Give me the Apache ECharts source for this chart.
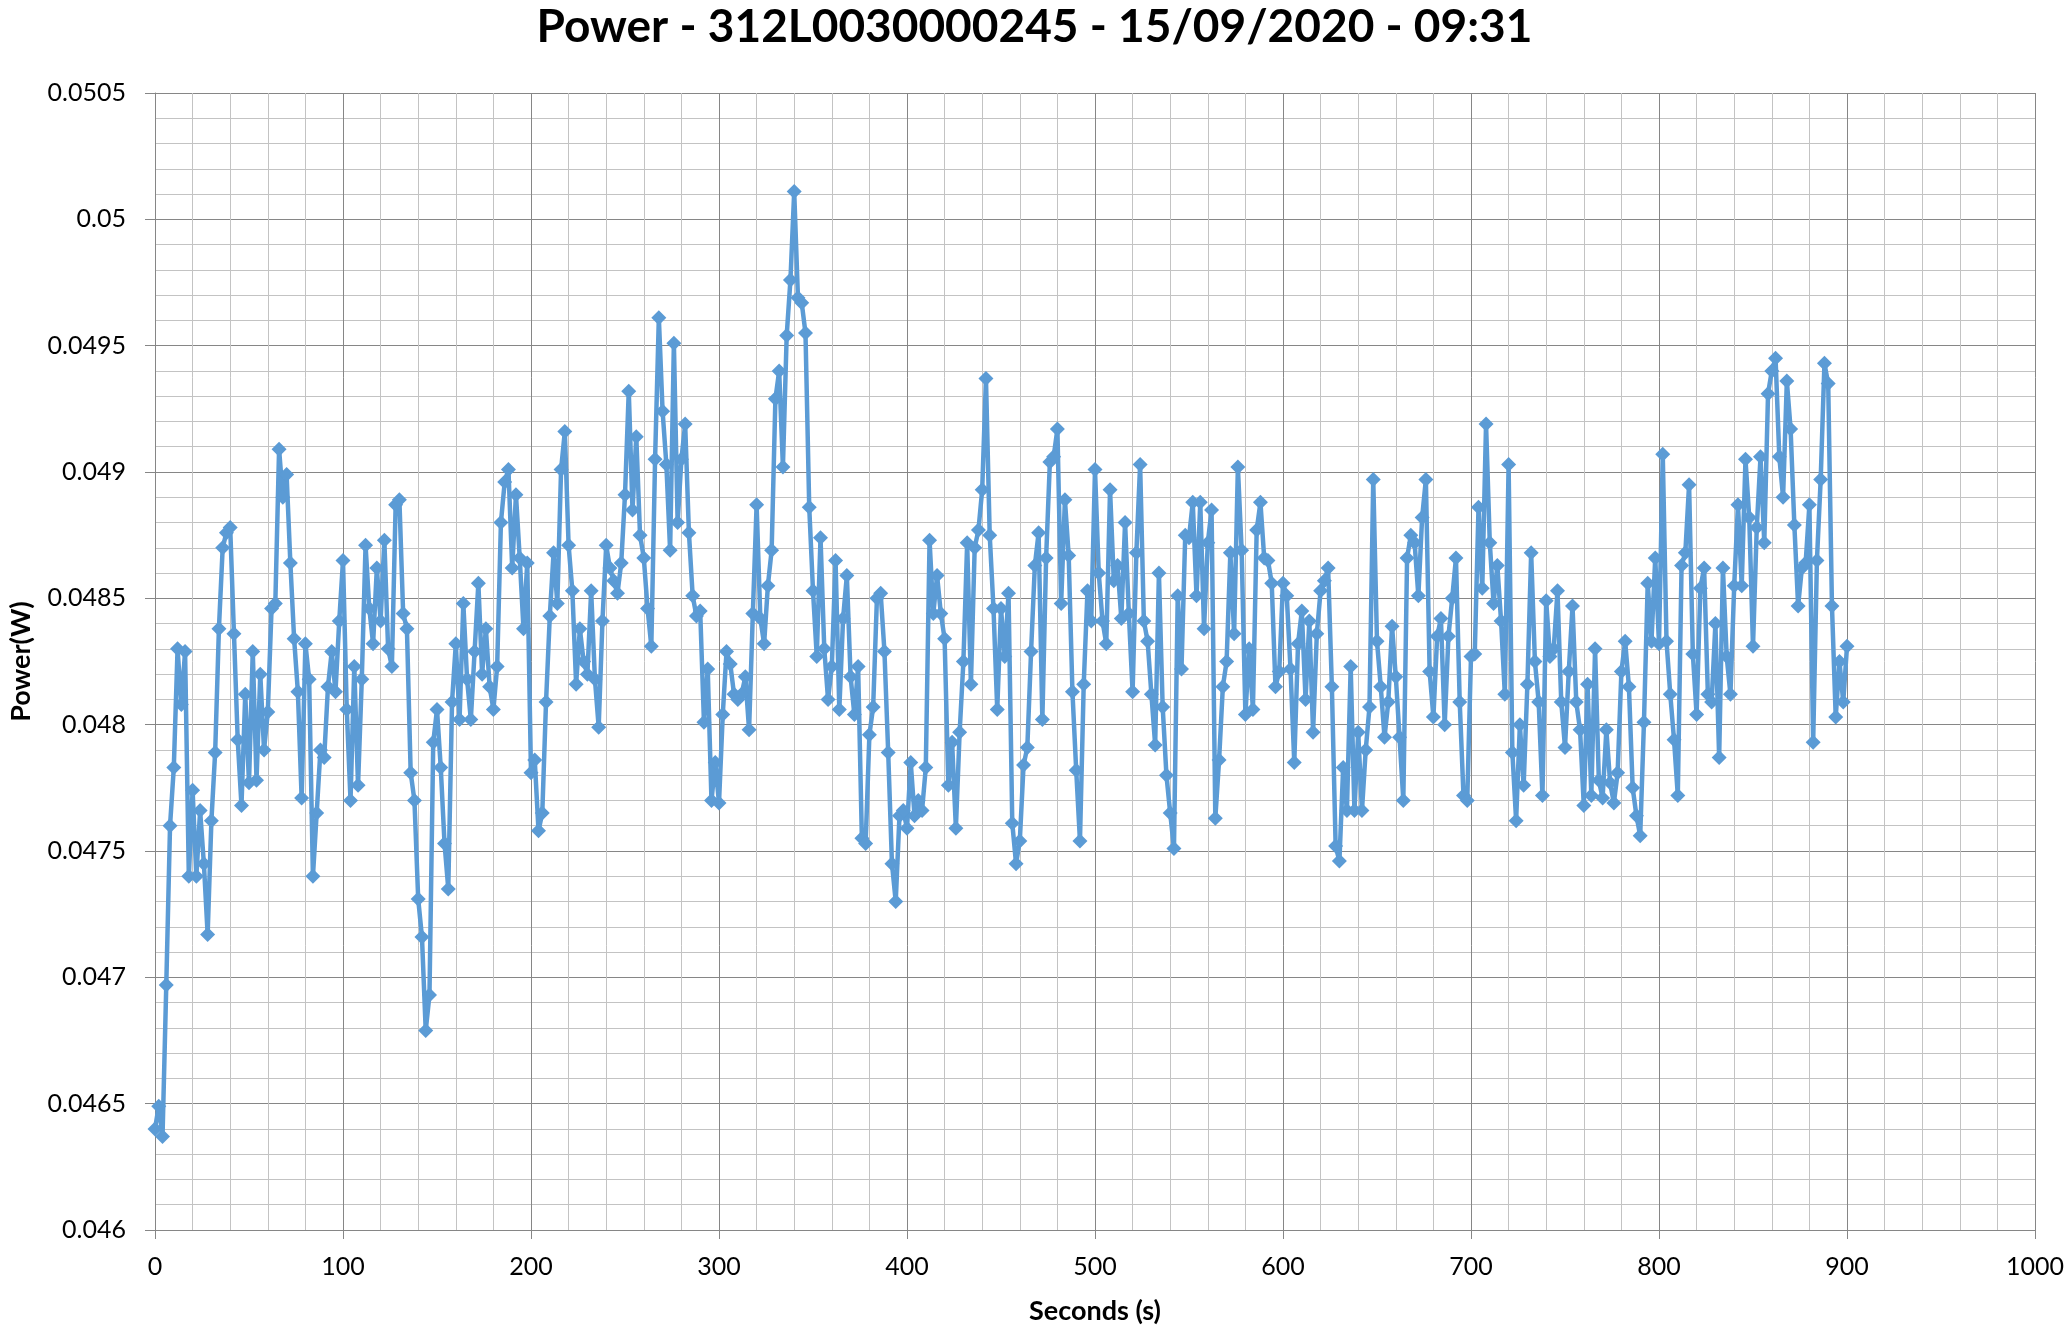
<!DOCTYPE html>
<html>
<head>
<meta charset="utf-8">
<script src="https://cdn.jsdelivr.net/npm/echarts@6/dist/echarts.min.js"></script>
<style>
  html, body { margin: 0; padding: 0; background: #ffffff; }
  #chart { width: 2069px; height: 1331px; }
</style>
</head>
<body>
<div id="chart"></div>
<script>
const chartTitle = 'Power - 312L0030000245 - 15/09/2020 - 09:31';
const xAxisName = 'Seconds (s)';
const yAxisName = 'Power(W)';

const seconds = [
  0,2,4,6,8,10,12,14,16,18,
  20,22,24,26,28,30,32,34,36,38,
  40,42,44,46,48,50,52,54,56,58,
  60,62,64,66,68,70,72,74,76,78,
  80,82,84,86,88,90,92,94,96,98,
  100,102,104,106,108,110,112,114,116,118,
  120,122,124,126,128,130,132,134,136,138,
  140,142,144,146,148,150,152,154,156,158,
  160,162,164,166,168,170,172,174,176,178,
  180,182,184,186,188,190,192,194,196,198,
  200,202,204,206,208,210,212,214,216,218,
  220,222,224,226,228,230,232,234,236,238,
  240,242,244,246,248,250,252,254,256,258,
  260,262,264,266,268,270,272,274,276,278,
  280,282,284,286,288,290,292,294,296,298,
  300,302,304,306,308,310,312,314,316,318,
  320,322,324,326,328,330,332,334,336,338,
  340,342,344,346,348,350,352,354,356,358,
  360,362,364,366,368,370,372,374,376,378,
  380,382,384,386,388,390,392,394,396,398,
  400,402,404,406,408,410,412,414,416,418,
  420,422,424,426,428,430,432,434,436,438,
  440,442,444,446,448,450,452,454,456,458,
  460,462,464,466,468,470,472,474,476,478,
  480,482,484,486,488,490,492,494,496,498,
  500,502,504,506,508,510,512,514,516,518,
  520,522,524,526,528,530,532,534,536,538,
  540,542,544,546,548,550,552,554,556,558,
  560,562,564,566,568,570,572,574,576,578,
  580,582,584,586,588,590,592,594,596,598,
  600,602,604,606,608,610,612,614,616,618,
  620,622,624,626,628,630,632,634,636,638,
  640,642,644,646,648,650,652,654,656,658,
  660,662,664,666,668,670,672,674,676,678,
  680,682,684,686,688,690,692,694,696,698,
  700,702,704,706,708,710,712,714,716,718,
  720,722,724,726,728,730,732,734,736,738,
  740,742,744,746,748,750,752,754,756,758,
  760,762,764,766,768,770,772,774,776,778,
  780,782,784,786,788,790,792,794,796,798,
  800,802,804,806,808,810,812,814,816,818,
  820,822,824,826,828,830,832,834,836,838,
  840,842,844,846,848,850,852,854,856,858,
  860,862,864,866,868,870,872,874,876,878,
  880,882,884,886,888,890,892,894,896,898,
  900
];

const power = [
  0.04640,0.04649,0.04637,0.04697,0.04760,0.04783,0.04830,0.04808,0.04829,0.04740,
  0.04774,0.04740,0.04766,0.04745,0.04717,0.04762,0.04789,0.04838,0.04870,0.04876,
  0.04878,0.04836,0.04794,0.04768,0.04812,0.04777,0.04829,0.04778,0.04820,0.04790,
  0.04805,0.04846,0.04848,0.04909,0.04890,0.04899,0.04864,0.04834,0.04813,0.04771,
  0.04832,0.04818,0.04740,0.04765,0.04790,0.04787,0.04815,0.04829,0.04813,0.04841,
  0.04865,0.04806,0.04770,0.04823,0.04776,0.04818,0.04871,0.04846,0.04832,0.04862,
  0.04841,0.04873,0.04830,0.04823,0.04887,0.04889,0.04844,0.04838,0.04781,0.04770,
  0.04731,0.04716,0.04679,0.04693,0.04793,0.04806,0.04783,0.04753,0.04735,0.04809,
  0.04832,0.04802,0.04848,0.04818,0.04802,0.04829,0.04856,0.04820,0.04838,0.04815,
  0.04806,0.04823,0.04880,0.04896,0.04901,0.04862,0.04891,0.04866,0.04838,0.04864,
  0.04781,0.04786,0.04758,0.04765,0.04809,0.04843,0.04868,0.04848,0.04901,0.04916,
  0.04871,0.04853,0.04816,0.04838,0.04825,0.04820,0.04853,0.04818,0.04799,0.04841,
  0.04871,0.04862,0.04857,0.04852,0.04864,0.04891,0.04932,0.04885,0.04914,0.04875,
  0.04866,0.04846,0.04831,0.04905,0.04961,0.04924,0.04903,0.04869,0.04951,0.04880,
  0.04905,0.04919,0.04876,0.04851,0.04843,0.04845,0.04801,0.04822,0.04770,0.04785,
  0.04769,0.04804,0.04829,0.04824,0.04812,0.04810,0.04812,0.04819,0.04798,0.04844,
  0.04887,0.04842,0.04832,0.04855,0.04869,0.04929,0.04940,0.04902,0.04954,0.04976,
  0.05011,0.04969,0.04967,0.04955,0.04886,0.04853,0.04827,0.04874,0.04830,0.04810,
  0.04823,0.04865,0.04806,0.04842,0.04859,0.04819,0.04804,0.04823,0.04755,0.04753,
  0.04796,0.04807,0.04850,0.04852,0.04829,0.04789,0.04745,0.04730,0.04764,0.04766,
  0.04759,0.04785,0.04764,0.04770,0.04766,0.04783,0.04873,0.04844,0.04859,0.04844,
  0.04834,0.04776,0.04793,0.04759,0.04797,0.04825,0.04872,0.04816,0.04870,0.04877,
  0.04893,0.04937,0.04875,0.04846,0.04806,0.04846,0.04827,0.04852,0.04761,0.04745,
  0.04754,0.04784,0.04791,0.04829,0.04863,0.04876,0.04802,0.04866,0.04904,0.04906,
  0.04917,0.04848,0.04889,0.04867,0.04813,0.04782,0.04754,0.04816,0.04853,0.04841,
  0.04901,0.04860,0.04841,0.04832,0.04893,0.04857,0.04863,0.04842,0.04880,0.04844,
  0.04813,0.04868,0.04903,0.04841,0.04833,0.04812,0.04792,0.04860,0.04807,0.04780,
  0.04765,0.04751,0.04851,0.04822,0.04875,0.04874,0.04888,0.04851,0.04888,0.04838,
  0.04872,0.04885,0.04763,0.04786,0.04815,0.04825,0.04868,0.04836,0.04902,0.04869,
  0.04804,0.04830,0.04806,0.04877,0.04888,0.04866,0.04865,0.04856,0.04815,0.04821,
  0.04856,0.04851,0.04822,0.04785,0.04832,0.04845,0.04810,0.04841,0.04797,0.04836,
  0.04853,0.04857,0.04862,0.04815,0.04752,0.04746,0.04783,0.04766,0.04823,0.04766,
  0.04797,0.04766,0.04790,0.04807,0.04897,0.04833,0.04815,0.04795,0.04809,0.04839,
  0.04819,0.04795,0.04770,0.04866,0.04875,0.04872,0.04851,0.04882,0.04897,0.04821,
  0.04803,0.04835,0.04842,0.04800,0.04835,0.04850,0.04866,0.04809,0.04772,0.04770,
  0.04827,0.04828,0.04886,0.04854,0.04919,0.04872,0.04848,0.04863,0.04841,0.04812,
  0.04903,0.04789,0.04762,0.04800,0.04776,0.04816,0.04868,0.04825,0.04809,0.04772,
  0.04849,0.04827,0.04830,0.04853,0.04809,0.04791,0.04821,0.04847,0.04809,0.04798,
  0.04768,0.04816,0.04772,0.04830,0.04778,0.04771,0.04798,0.04777,0.04769,0.04781,
  0.04821,0.04833,0.04815,0.04775,0.04764,0.04756,0.04801,0.04856,0.04833,0.04866,
  0.04832,0.04907,0.04833,0.04812,0.04794,0.04772,0.04863,0.04868,0.04895,0.04828,
  0.04804,0.04854,0.04862,0.04812,0.04809,0.04840,0.04787,0.04862,0.04827,0.04812,
  0.04855,0.04887,0.04855,0.04905,0.04882,0.04831,0.04878,0.04906,0.04872,0.04931,
  0.04940,0.04945,0.04906,0.04890,0.04936,0.04917,0.04879,0.04847,0.04862,0.04864,
  0.04887,0.04793,0.04865,0.04897,0.04943,0.04935,0.04847,0.04803,0.04825,0.04809,
  0.04831
];

const xMin = 0, xMax = 1000, xStep = 100;
const yMin = 0.046, yMax = 0.0505, yStep = 0.0005;

const FONT = 'Lato, "Open Sans", sans-serif';
const MAJOR = '#868686';
const MINOR = '#c3c3c3';

const chart = echarts.init(document.getElementById('chart'), null, { renderer: 'canvas' });
chart.setOption({
  animation: false,
  backgroundColor: '#ffffff',
  textStyle: { fontFamily: FONT },
  title: {
    text: chartTitle,
    left: 'center',
    top: -1,
    textStyle: { fontFamily: FONT, fontWeight: 'bold', fontSize: 46, color: '#000000' }
  },
  grid: { left: 152, right: 34, top: 93, bottom: 101, containLabel: false },
  xAxis: {
    type: 'value',
    min: xMin, max: xMax, interval: xStep,
    name: xAxisName,
    nameLocation: 'middle',
    nameGap: 68,
    nameTextStyle: { fontFamily: FONT, fontWeight: 'bold', fontSize: 27, color: '#000000' },
    axisLine: { show: true, lineStyle: { color: MAJOR, width: 1 } },
    axisTick: { show: true, inside: false, length: 9, lineStyle: { color: MAJOR } },
    axisLabel: {
      fontSize: 25, color: '#000000', margin: 24, fontFamily: FONT,
      formatter: v => String(Math.round(v))
    },
    splitLine: { show: true, lineStyle: { color: MAJOR, width: 1 } },
    minorTick: { show: false, splitNumber: 5 },
    minorSplitLine: { show: true, lineStyle: { color: MINOR, width: 1 } }
  },
  yAxis: {
    type: 'value',
    min: yMin, max: yMax, interval: yStep,
    name: yAxisName,
    nameLocation: 'middle',
    nameRotate: 90,
    nameGap: 120,
    nameTextStyle: { fontFamily: FONT, fontWeight: 'bold', fontSize: 27, color: '#000000' },
    axisLine: { show: true, lineStyle: { color: MAJOR, width: 1 } },
    axisTick: { show: true, inside: false, length: 10, lineStyle: { color: MAJOR } },
    axisLabel: {
      fontSize: 25, color: '#000000', margin: 29, fontFamily: FONT,
      formatter: v => String(+(+v).toFixed(4))
    },
    splitLine: { show: true, lineStyle: { color: MAJOR, width: 1 } },
    minorTick: { show: false, splitNumber: 5 },
    minorSplitLine: { show: true, lineStyle: { color: MINOR, width: 1 } }
  },
  series: [{
    type: 'line',
    data: seconds.map((s, i) => [s, power[i]]),
    symbol: 'diamond',
    symbolSize: 15,
    showAllSymbol: true,
    itemStyle: { color: '#5B9BD5' },
    lineStyle: { color: '#5B9BD5', width: 4.5 },
    z: 5
  }]
});
</script>
</body>
</html>
